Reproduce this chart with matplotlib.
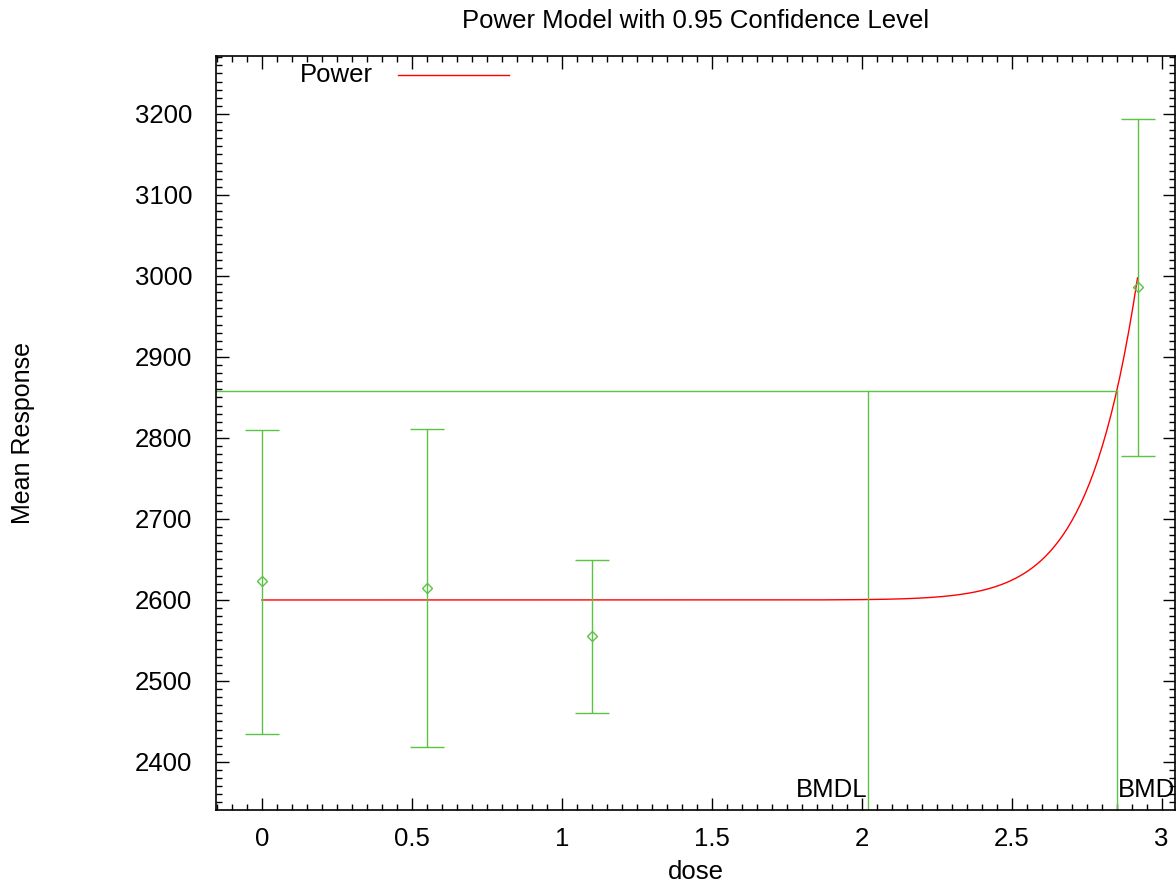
import numpy as np
import matplotlib
matplotlib.use("Agg")
from matplotlib import pyplot as plt
from matplotlib.lines import Line2D
from matplotlib.ticker import MultipleLocator

plt.rcParams['font.family'] = ['Liberation Sans', 'DejaVu Sans']

# observed data: dose, mean response, lower / upper confidence limits
dose = [0.0, 0.55, 1.1, 2.92]
mean_resp = [2623, 2615, 2555, 2986]
lower_ci = [2435, 2418, 2461, 2778]
upper_ci = [2810, 2811, 2649, 3194]

# fitted power model: y = intercept + slope * dose ^ power
intercept = 2600.0
slope = 1.67e-6
power = 18.0

bmd = 2.853
bmdl = 2.02
bmr_level = 2858

green = '#5cc246'
red = '#ff0000'
W, H = 1176, 886
fs = 18.5

fig = plt.figure(figsize=(W / 100, H / 100), dpi=100)
ax = fig.add_axes([216 / W, 1 - 810 / H, 959 / W, (810 - 56) / H])

xlo, xhi = -0.153, 3.045
ylo, yhi = 2340.7, 3271.6

# model curve
xs = np.linspace(0, max(dose), 400)
ax.plot(xs, intercept + slope * xs ** power, color=red, linewidth=1.0)

# data with error bars
yerr = [np.array(mean_resp) - np.array(lower_ci), np.array(upper_ci) - np.array(mean_resp)]
ax.errorbar(dose, mean_resp, yerr=yerr, fmt='D', color=green, mfc='none', mec=green,
            markersize=5, markeredgewidth=1.0, elinewidth=1.0, capsize=12, capthick=1.0)

ax.set_xlim(xlo, xhi)
ax.set_ylim(ylo, yhi)

# BMD / BMDL lines
ax.plot([xlo, bmd], [bmr_level, bmr_level], color=green, linewidth=1.0)
ax.plot([bmdl, bmdl], [ylo, bmr_level], color=green, linewidth=1.0)
ax.plot([bmd, bmd], [ylo, bmr_level], color=green, linewidth=1.0)
ax.text(bmdl, ylo + 16, 'BMDL', ha='right', va='baseline', fontsize=fs)
ax.text(bmd, ylo + 16, 'BMD', ha='left', va='baseline', fontsize=fs)

ax.set_xticks([0, 0.5, 1, 1.5, 2, 2.5, 3])
ax.set_xticklabels(['0', '0.5', '1', '1.5', '2', '2.5', '3'])
ax.xaxis.set_minor_locator(MultipleLocator(0.05))
ax.yaxis.set_major_locator(MultipleLocator(100))
ax.yaxis.set_minor_locator(MultipleLocator(10))
ax.tick_params(which='both', direction='in', top=True, right=True, labelsize=fs, width=1.0)
ax.tick_params(which='major', length=9)
ax.tick_params(axis='y', which='major', pad=17)
ax.tick_params(axis='x', which='major', pad=12)
ax.tick_params(which='minor', length=4.5)
for s in ax.spines.values():
    s.set_linewidth(1.2)

fig.text(0.5 * (216 + 1176) / W, 1 - 21 / H, 'Power Model with 0.95 Confidence Level',
         ha='center', va='center', fontsize=fs)
fig.text(0.5 * (216 + 1176) / W, 1 - 872 / H, 'dose', ha='center', va='center', fontsize=fs)
fig.text(23 / W, 1 - 433 / H, 'Mean Response', ha='center', va='center', rotation=90,
         fontsize=18)

# key
fig.text(300 / W, 1 - 75 / H, 'Power', ha='left', va='center', fontsize=fs)
fig.add_artist(Line2D([398 / W, 509 / W], [1 - 75 / H, 1 - 75 / H], color=red, linewidth=1.0))

fig.savefig('out.png', dpi=100)
